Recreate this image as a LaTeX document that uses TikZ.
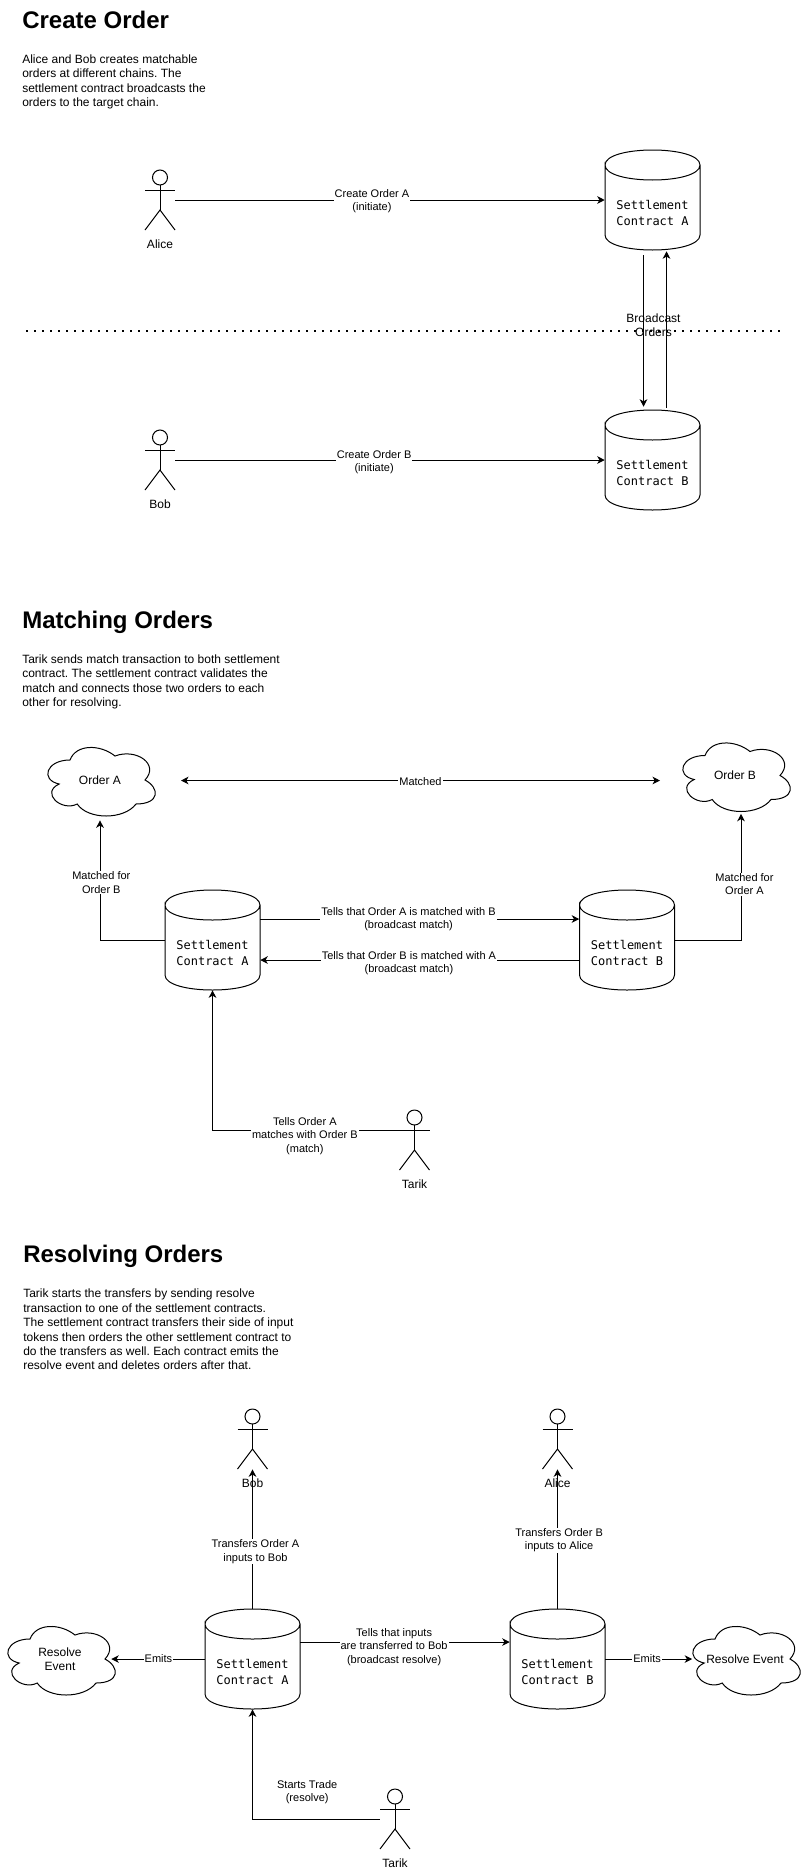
\documentclass[tikz,border=0pt]{standalone}
\usepackage{fontspec}
\setmainfont{Liberation Sans}
\newfontfamily\contractfont{DejaVu Sans Mono}
\usepackage{xcolor}
\usepackage{tikz}
\usetikzlibrary{arrows.meta,calc}
\definecolor{inkBlack}{HTML}{000000}

\tikzset{
  headtitle/.style={anchor=base west,inner sep=0pt,font=\fontsize{18}{21.6}\selectfont\bfseries},
  introtext/.style={anchor=north west,inner sep=0pt,align=left,font=\fontsize{9}{10.8}\selectfont\frenchspacing},
  flowtext/.style={fill=white,inner sep=0.8pt,align=center,font=\fontsize{8.25}{9.9}\selectfont},
  plaintext/.style={inner sep=0pt,align=center,font=\fontsize{9}{10.8}\selectfont},
  flow/.style={->,draw=inkBlack,line width=0.75pt},
  emptybox/.style={inner sep=0pt,minimum width=#1},
  pics/actorfig/.style={code={
    \node[emptybox=22.5pt,minimum height=45pt] (-box) {};
    \coordinate (-arm) at (-15,-10);
    \draw[line width=0.75pt] (0,-22.5) circle (7.5);
    \draw[line width=0.75pt] (0,-15)--(0,10) (-15,-10)--(15,-10);
    \draw[line width=0.75pt] (-15,30)--(0,10)--(15,30);
    \node[plaintext] (-name) at (0,44) {#1};
  }},
  pics/contractfig/.style={code={
    \node[emptybox=71.25pt,minimum height=75pt] (-box) {};
    \draw[line width=0.75pt] (-47.5,-35) .. controls (-47.5,-55) and (47.5,-55) .. (47.5,-35)
      .. controls (47.5,-15) and (-47.5,-15) .. (-47.5,-35) -- (-47.5,35)
      .. controls (-47.5,55) and (47.5,55) .. (47.5,35) -- (47.5,-35);
    \node[plaintext,font=\fontsize{9}{11.7}\selectfont\contractfont] (-text) at (0,13) {Settlement\\Contract #1};
  }},
  pics/cloudfig/.style={code={
    \node[emptybox=90pt,minimum height=60pt,plaintext] (-box) {#1};
    \begin{scope}[shift={(-60,-40)},x=90pt,y=-60pt]
      \draw[line width=0.75pt] (0.25,0.25) .. controls (0.05,0.25) and (0,0.5) .. (0.16,0.55)
        .. controls (0,0.66) and (0.18,0.9) .. (0.31,0.8)
        .. controls (0.4,1) and (0.7,1) .. (0.8,0.8)
        .. controls (1,0.8) and (1,0.6) .. (0.875,0.5)
        .. controls (1,0.3) and (0.8,0.1) .. (0.625,0.2)
        .. controls (0.5,0.05) and (0.3,0.05) .. (0.25,0.25) -- cycle;
    \end{scope}
  }},
}

\begin{document}
\begin{tikzpicture}[x=0.75pt,y=-0.75pt,>={Stealth[length=5.6pt,width=5.6pt,inset=1.6pt]}]
    \useasboundingbox (0,0) rectangle (806,1870);

    % create order
    \node[headtitle] (titleCreate) at (22,28) {Create Order};
    \node[introtext] (introCreate) at (22,54.5) {Alice and Bob creates matchable\\orders at different chains. The\\settlement contract broadcasts the\\orders to the target chain.};

    \pic (aliceC) at (160,200) {actorfig=Alice};
    \pic (bobC) at (160,460) {actorfig=Bob};
    \pic (settleCA) at (652.5,200) {contractfig=A};
    \pic (settleCB) at (652.5,460) {contractfig=B};

    \draw[flow] (aliceC-box.east)--(settleCA-box.west)
      node[flowtext,pos=0.458,yshift=-0.7pt] (flowAliceC) {Create Order A\\(initiate)};
    \draw[flow] (bobC-box.east)--(settleCB-box.west)
      node[flowtext,pos=0.463,yshift=-1.5pt] (flowBobC) {Create Order B\\(initiate)};

    \coordinate (chainL) at (26,331);
    \coordinate (chainR) at (780,331);
    \draw[line width=1.1pt,dash pattern=on 1.3pt off 4.7pt] (chainL)--(chainR);
    \draw[flow] ($(settleCA-box.south)+(-9,5)$)--($(settleCB-box.north)+(-9,-3)$);
    \draw[flow] ($(settleCB-box.north)+(14,-2)$)--($(settleCA-box.south)+(14,1)$);
    \node[plaintext] (broadcastC) at ($(settleCA-box.south)!0.5!(settleCB-box.north)+(1,-5)$) {Broadcast\\Orders};

    % matching orders
    \node[headtitle] (titleMatch) at (22,628) {Matching Orders};
    \node[introtext] (introMatch) at (22,654.5) {Tarik sends match transaction to both settlement\\contract. The settlement contract validates the\\match and connects those two orders to each\\other for resolving.};

    \pic (orderA) at (100,780) {cloudfig=Order A};
    \pic (orderB) at (735,775.5) {cloudfig=Order B};
    \pic (settleMA) at (212.5,940) {contractfig=A};
    \pic (settleMB) at (627,940) {contractfig=B};
    \pic (tarikM) at (414.5,1140) {actorfig=Tarik};

    \coordinate (matchL) at (181,780.5);
    \coordinate (matchR) at (660,780.5);
    \draw[flow,<->] (matchL)--(matchR)
      node[flowtext,pos=0.5,yshift=-1pt] (flowMatched) {Matched};
    \draw[flow] (settleMA-box.west)-|(orderA-box.south)
      node[flowtext,pos=0.74,xshift=1pt] (flowForB) {Matched for\\Order B};
    \draw[flow] (settleMB-box.east)-|($(orderB-box.south)+(6,-2)$)
      node[flowtext,pos=0.72,xshift=2.6pt] (flowForA) {Matched for\\Order A};
    \draw[flow] ($(settleMA-box.east)+(0,-21)$)--($(settleMB-box.west)+(0,-21)$)
      node[flowtext,pos=0.465] (flowTellA) {Tells that Order A is matched with B\\(broadcast match)};
    \draw[flow] ($(settleMB-box.west)+(0,20)$)--($(settleMA-box.east)+(0,20)$)
      node[flowtext,pos=0.534,yshift=-2.6pt] (flowTellB) {Tells that Order B is matched with A\\(broadcast match)};
    \draw[flow] (tarikM-arm)-|(settleMA-box.south)
      node[flowtext,pos=0.253,yshift=-4.6pt] (flowTarikM) {Tells Order A\\matches with Order B\\(match)};

    % resolving orders
    \node[headtitle] (titleResolve) at (23,1262) {Resolving Orders};
    \node[introtext] (introResolve) at (23,1289) {Tarik starts the transfers by sending resolve\\transaction to one of the settlement contracts.\\The settlement contract transfers their side of input\\tokens then orders the other settlement contract to\\do the transfers as well. Each contract emits the\\resolve event and deletes orders after that.};

    \pic (bobR) at (252.5,1439) {actorfig=Bob};
    \pic (aliceR) at (557.5,1439) {actorfig=Alice};
    \pic (settleRA) at (252.5,1659) {contractfig=A};
    \pic (settleRB) at (557.5,1659) {contractfig=B};
    \pic (eventA) at (60,1659) {cloudfig={Resolve\\Event}};
    \pic (eventB) at (745,1659) {cloudfig=Resolve Event};
    \pic (tarikR) at (395,1819) {actorfig=Tarik};

    \draw[flow] (settleRA-box.north)--(bobR-box.south)
      node[flowtext,pos=0.41,xshift=2.2pt] (flowToBob) {Transfers Order A\\inputs to Bob};
    \draw[flow] (settleRB-box.north)--(aliceR-box.south)
      node[flowtext,pos=0.49,xshift=1.2pt] (flowToAlice) {Transfers Order B\\inputs to Alice};
    \draw[flow] ($(settleRA-box.east)+(0,-17)$)--($(settleRB-box.west)+(0,-17)$)
      node[flowtext,pos=0.448,yshift=-3.8pt] (flowTellR) {Tells that inputs\\are transferred to Bob\\(broadcast resolve)};
    \draw[flow,shorten >=-6.75pt] (settleRA-box.west)--(eventA-box.east)
      node[flowtext,pos=0.548] (flowEmitA) {Emits};
    \draw[flow,shorten >=-5.6pt] (settleRB-box.east)--(eventB-box.west)
      node[flowtext,pos=0.526] (flowEmitB) {Emits};
    \draw[flow] (tarikR-box.west)-|(settleRA-box.south)
      node[flowtext,pos=0.285,yshift=19.9pt,fill=none] (flowTarikR) {Starts Trade\\(resolve)};
  \end{tikzpicture}
\end{document}
